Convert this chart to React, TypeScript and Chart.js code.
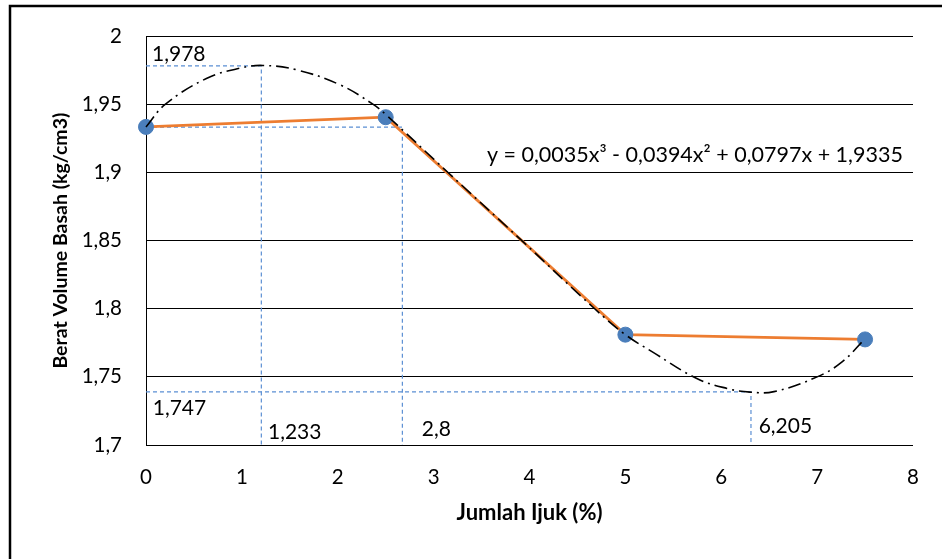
import React, { useEffect, useRef } from "react";
import { Chart, registerables } from "chart.js";

Chart.register(...registerables);

// ---- data ----
const jumlahIjuk = [0, 2.5, 5, 7.5];
const beratVolume = [1.9335, 1.9406, 1.781, 1.7775];

const trendX = [0, 0.2, 0.63, 0.98, 1.22, 1.57, 2.02, 2.37, 2.51, 3.15, 3.92, 4.68, 5.0, 5.29, 5.74, 6.06, 6.3, 6.55, 7.0, 7.26, 7.5];
const trendY = [1.9335, 1.95, 1.969, 1.9766, 1.9786, 1.9754, 1.9645, 1.95, 1.942, 1.9, 1.85, 1.8, 1.781, 1.768, 1.749, 1.7415, 1.7388, 1.7392, 1.75, 1.761, 1.778];

const guideAX = [0, 1.203, 1.203];
const guideAY = [1.9783, 1.9783, 1.7];
const guideBX = [0, 2.674, 2.674];
const guideBY = [1.9333, 1.9333, 1.7];
const guideCX = [0, 6.31, 6.31];
const guideCY = [1.739, 1.739, 1.7];

const labelTexts = ["1,978", "1,747", "1,233", "2,8", "6,205"];
const labelX = [0.063, 0.07, 1.272, 2.876, 6.39];
const labelY = [1.9866, 1.7271, 1.7095, 1.7113, 1.7139];

const equationText = "y = 0,0035x³ - 0,0394x² + 0,0797x + 1,9335";
const equationX = 3.556;
const equationY = 1.913;

const xTicks = [0, 1, 2, 3, 4, 5, 6, 7, 8];
const yMin = 1.7;
const yMax = 2.0;
const yStep = 0.05;

const FONT = "Lato, 'Open Sans', sans-serif";

const zip = (xs: number[], ys: number[]) => xs.map((x, i) => ({ x, y: ys[i] }));

const annotationPlugin = {
  id: "annotations",
  beforeDraw(chart: any) {
    const { ctx } = chart;
    ctx.save();
    ctx.fillStyle = "#ffffff";
    ctx.fillRect(0, 0, chart.width, chart.height);
    ctx.strokeStyle = "#000000";
    ctx.lineWidth = 2.5;
    ctx.beginPath();
    ctx.moveTo(10, chart.height);
    ctx.lineTo(10, 6);
    ctx.lineTo(chart.width, 6);
    ctx.stroke();
    ctx.restore();
  },
  afterDatasetsDraw(chart: any) {
    const { ctx, scales } = chart;
    const xs = scales.x;
    const ys = scales.y;
    ctx.save();
    ctx.fillStyle = "#000000";
    ctx.textAlign = "left";
    ctx.textBaseline = "middle";
    ctx.font = `21px ${FONT}`;
    labelTexts.forEach((t, i) => {
      ctx.fillText(t, xs.getPixelForValue(labelX[i]), ys.getPixelForValue(labelY[i]));
    });
    ctx.font = `21.5px ${FONT}`;
    ctx.fillText(equationText, xs.getPixelForValue(equationX), ys.getPixelForValue(equationY));
    ctx.restore();
  },
};

export default function App() {
  const ref = useRef<HTMLCanvasElement | null>(null);

  useEffect(() => {
    if (!ref.current) return;
    const guideStyle = {
      type: "line" as const,
      borderColor: "#5B8FD3",
      borderWidth: 1.2,
      borderDash: [4, 3],
      pointRadius: 0,
      fill: false,
      tension: 0,
      order: 4,
    };
    const chart = new Chart(ref.current, {
      type: "scatter",
      data: {
        datasets: [
          { ...guideStyle, data: zip(guideAX, guideAY), showLine: true },
          { ...guideStyle, data: zip(guideBX, guideBY), showLine: true },
          { ...guideStyle, data: zip(guideCX, guideCY), showLine: true },
          {
            type: "line",
            data: zip(jumlahIjuk, beratVolume),
            showLine: true,
            borderColor: "#ED7D31",
            borderWidth: 2.8,
            pointRadius: 0,
            tension: 0,
            order: 3,
          },
          {
            type: "scatter",
            data: zip(jumlahIjuk, beratVolume),
            backgroundColor: "#4A7EBB",
            borderColor: "#4A7EBB",
            pointRadius: 7.5,
            pointHoverRadius: 7.5,
            clip: false,
            order: 2,
          },
          {
            type: "line",
            data: zip(trendX, trendY),
            showLine: true,
            borderColor: "#000000",
            borderWidth: 1.6,
            borderDash: [13, 5, 2, 5],
            pointRadius: 0,
            tension: 0.4,
            clip: false,
            order: 1,
          },
        ] as any,
      },
      options: {
        animation: false,
        responsive: false,
        devicePixelRatio: 1,
        layout: { padding: { top: 35, right: 29, left: 0, bottom: 0 } },
        plugins: {
          legend: { display: false },
          tooltip: { enabled: false },
        },
        scales: {
          x: {
            type: "linear",
            min: 0,
            max: 8,
            afterFit: (s: any) => {
              s.height = 114;
            },
            afterBuildTicks: (s: any) => {
              s.ticks = xTicks.map((v) => ({ value: v }));
            },
            grid: { display: false, drawTicks: false },
            border: { display: false },
            ticks: {
              color: "#000000",
              font: { family: FONT, size: 20.5 },
              padding: 20,
              maxRotation: 0,
            },
            title: {
              display: true,
              text: "Jumlah Ijuk (%)",
              color: "#000000",
              font: { family: FONT, size: 22, weight: "bold" },
              padding: { top: 0, bottom: 33 },
            },
          },
          y: {
            type: "linear",
            min: yMin,
            max: yMax,
            afterFit: (s: any) => {
              s.width = 146;
            },
            ticks: {
              stepSize: yStep,
              color: "#000000",
              font: { family: FONT, size: 20.5 },
              padding: 24,
              callback: (v: any) => String(Math.round(Number(v) * 100) / 100).replace(".", ","),
            },
            grid: { color: "#000000", lineWidth: 1, drawTicks: false },
            border: { display: true, color: "#000000", width: 1 },
            title: {
              display: true,
              text: "Berat Volume Basah (kg/cm3)",
              color: "#000000",
              font: { family: FONT, size: 19.5, weight: "bold" },
              padding: { top: 49, bottom: 0 },
            },
          },
        },
      } as any,
      plugins: [annotationPlugin],
    });
    return () => chart.destroy();
  }, []);

  return (
    <div style={{ position: "fixed", left: 0, top: 0, width: 942, height: 559, background: "#fff" }}>
      <canvas ref={ref} width={942} height={559} style={{ display: "block" }} />
    </div>
  );
}
